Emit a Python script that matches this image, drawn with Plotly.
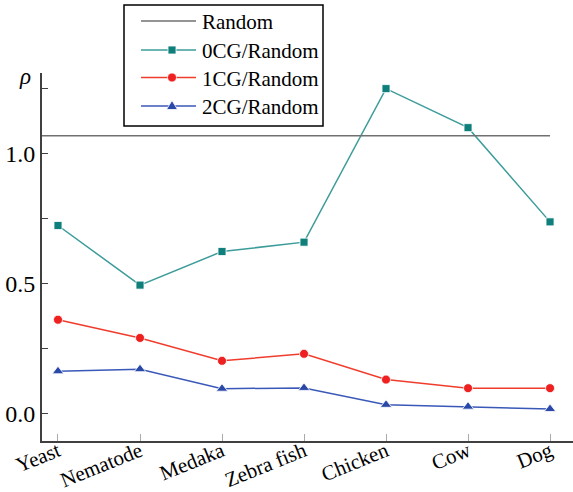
import plotly.graph_objects as go

categories = ["Yeast", "Nematode", "Medaka", "Zebra fish", "Chicken", "Cow", "Dog"]
cg0 = [0.724, 0.495, 0.624, 0.660, 1.250, 1.100, 0.738]
cg1 = [0.362, 0.292, 0.204, 0.231, 0.132, 0.099, 0.099]
cg2 = [0.164, 0.172, 0.097, 0.100, 0.035, 0.028, 0.019]
random_value = 1.069
series_names = ["0CG/Random", "1CG/Random", "2CG/Random"]
y_tick_vals = [0, 0.25, 0.5, 0.75, 1.0, 1.25]
y_tick_text = ["0.0", "", "0.5", "", "1.0", ""]

FONT = "Liberation Serif, Times New Roman, serif"
W, H = 573, 492
ML, MR, MT, MB = 42, 0, 73, 51
PW, PH = W - ML - MR, H - MT - MB


def px(x):
    return (x - ML) / PW


def py(y):
    return (H - MB - y) / PH


styles = [
    dict(symbol="square", size=8, mcolor="#0f7f7c", lcolor="#3c9c9a"),
    dict(symbol="circle", size=9, mcolor="#ee2020", lcolor="#f03c2c"),
    dict(symbol="triangle-up", size=10, mcolor="#2a48a8", lcolor="#3a58b8"),
]

xs = list(range(len(categories)))
fig = go.Figure()

for name, vals, st in zip(series_names, [cg0, cg1, cg2], styles):
    fig.add_trace(go.Scatter(
        x=xs, y=vals, mode="lines+markers", name=name, showlegend=False,
        line=dict(color=st["lcolor"], width=1.5),
        marker=dict(symbol=st["symbol"], size=st["size"], color=st["mcolor"],
                    line=dict(color="white", width=0.8)),
    ))

x_range = [-0.195, 6.28]
# Random reference line
fig.add_shape(type="line", xref="x", yref="y", x0=x_range[0], x1=xs[-1],
              y0=random_value, y1=random_value,
              line=dict(color="#707070", width=1.5))

# Custom legend
fig.add_shape(type="rect", xref="paper", yref="paper",
              x0=px(124), x1=px(323), y0=py(126), y1=py(5),
              line=dict(color="black", width=1.5))
rows = [21, 50, 77.5, 106]
legend_labels = ["Random"] + series_names
legend_colors = ["#707070"] + [s["lcolor"] for s in styles]
for ry, lab, col in zip(rows, legend_labels, legend_colors):
    fig.add_shape(type="line", xref="paper", yref="paper",
                  x0=px(141), x1=px(196), y0=py(ry), y1=py(ry),
                  line=dict(color=col, width=1.5))
    fig.add_annotation(xref="paper", yref="paper", x=px(200), y=py(ry + 1),
                       text=lab, showarrow=False, xanchor="left", yanchor="middle",
                       font=dict(family=FONT, size=21, color="black"))

# legend markers (pixel-sized shapes anchored in paper coords)
mx = px(172)
common = dict(xref="paper", yref="paper", xsizemode="pixel", ysizemode="pixel",
              xanchor=mx, line=dict(color="white", width=0.8))
fig.add_shape(type="rect", yanchor=py(rows[1]), x0=-4, x1=4, y0=-4, y1=4,
              fillcolor=styles[0]["mcolor"], **common)
fig.add_shape(type="circle", yanchor=py(rows[2]), x0=-4.5, x1=4.5, y0=-4.5, y1=4.5,
              fillcolor=styles[1]["mcolor"], **common)
fig.add_shape(type="path", yanchor=py(rows[3]), path="M -5.5 -3.5 L 5.5 -3.5 L 0 5.5 Z",
              fillcolor=styles[2]["mcolor"], **common)

fig.add_annotation(xref="paper", yref="paper", x=px(25), y=py(76),
                   text="<i>ρ</i>", showarrow=False, xanchor="center", yanchor="middle",
                   font=dict(family=FONT, size=23, color="black"))

fig.update_layout(
    width=W, height=H,
    margin=dict(l=ML, r=MR, t=MT, b=MB, pad=0),
    paper_bgcolor="white", plot_bgcolor="white",
    showlegend=False,
    xaxis=dict(range=x_range, tickmode="array", tickvals=xs, ticktext=categories,
               tickangle=-22, ticks="inside", ticklen=7, tickcolor="#aaaaaa", tickwidth=1,
               showline=True, linecolor="#404040", linewidth=2,
               showgrid=False, zeroline=False, automargin=False,
               ticklabelstandoff=-12,
               tickfont=dict(family=FONT, size=21, color="black")),
    yaxis=dict(range=[-0.104, 1.31], tickmode="array", tickvals=y_tick_vals,
               ticktext=y_tick_text, ticks="inside", ticklen=6, tickcolor="#404040",
               tickwidth=1, showline=True, linecolor="#404040", linewidth=2,
               showgrid=False, zeroline=False, automargin=False,
               tickfont=dict(family=FONT, size=24, color="black")),
)

fig.write_html("out.html")
